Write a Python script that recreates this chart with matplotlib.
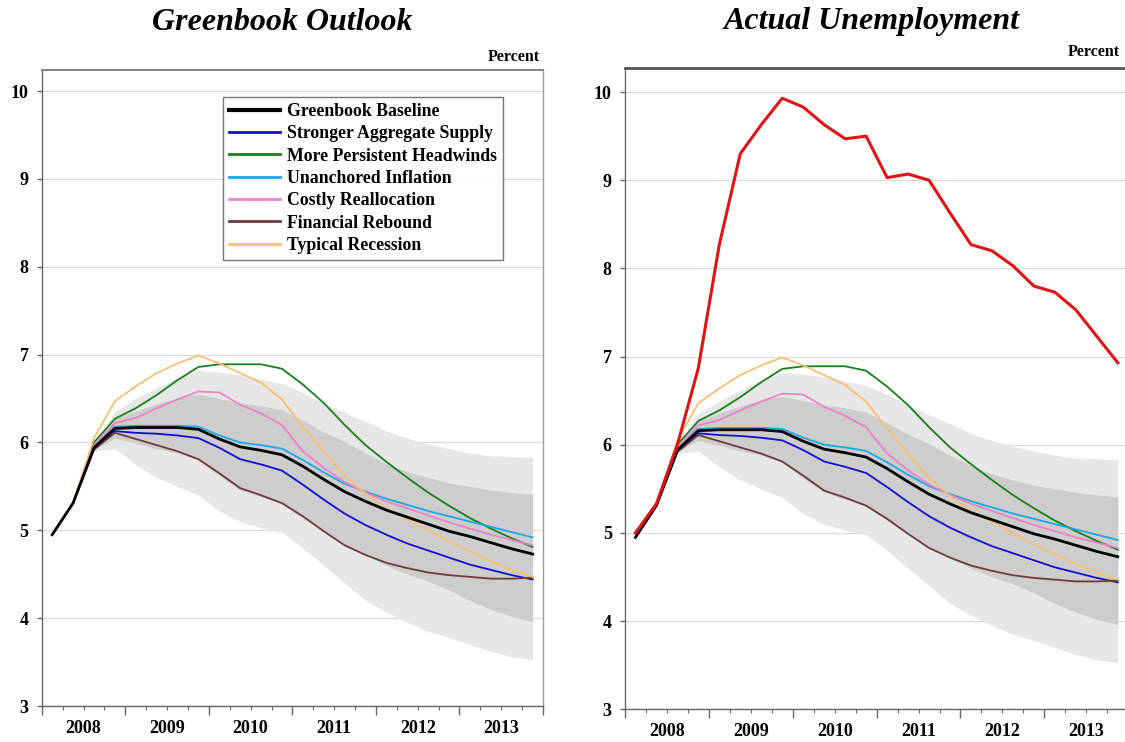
import matplotlib
matplotlib.use("Agg")
import matplotlib.pyplot as plt
import numpy as np
import pandas as pd

# ---------------- data ----------------
quarters = pd.period_range("2008Q1", "2013Q4", freq="Q")
years = ["2008", "2009", "2010", "2011", "2012", "2013"]

baseline = [4.95, 5.31, 5.94, 6.16, 6.17, 6.17, 6.17, 6.15, 6.04, 5.95, 5.91, 5.86,
            5.73, 5.58, 5.44, 5.33, 5.23, 5.15, 5.07, 4.99, 4.93, 4.86, 4.79, 4.73]

# scenarios start at 2008Q2
stronger_supply = [5.31, 5.92, 6.13, 6.11, 6.10, 6.08, 6.05, 5.94, 5.81, 5.75, 5.68, 5.52,
                   5.35, 5.19, 5.06, 4.95, 4.85, 4.77, 4.69, 4.61, 4.55, 4.49, 4.44]
headwinds = [5.31, 6.00, 6.27, 6.39, 6.54, 6.71, 6.86, 6.89, 6.89, 6.89, 6.84, 6.66,
             6.45, 6.20, 5.97, 5.78, 5.60, 5.43, 5.28, 5.14, 5.02, 4.91, 4.81]
unanchored = [5.31, 5.95, 6.18, 6.19, 6.19, 6.19, 6.18, 6.08, 6.00, 5.97, 5.93, 5.80,
              5.66, 5.53, 5.44, 5.36, 5.29, 5.22, 5.16, 5.10, 5.04, 4.98, 4.92]
reallocation = [5.31, 5.97, 6.22, 6.28, 6.39, 6.49, 6.58, 6.57, 6.43, 6.33, 6.20, 5.90,
                5.71, 5.55, 5.43, 5.33, 5.25, 5.17, 5.09, 5.02, 4.95, 4.89, 4.83]
fin_rebound = [5.31, 5.92, 6.11, 6.04, 5.97, 5.90, 5.81, 5.65, 5.48, 5.40, 5.31, 5.16,
               4.99, 4.83, 4.72, 4.63, 4.57, 4.52, 4.49, 4.47, 4.45, 4.45, 4.46]
typical_rec = [5.31, 6.05, 6.47, 6.64, 6.79, 6.90, 6.99, 6.90, 6.79, 6.68, 6.49, 6.18,
               5.90, 5.62, 5.42, 5.25, 5.12, 5.00, 4.87, 4.76, 4.65, 4.55, 4.47]

# confidence bands start at 2008Q3
band90_hi = [5.97, 6.35, 6.50, 6.62, 6.74, 6.82, 6.80, 6.77, 6.72, 6.67, 6.57, 6.45,
             6.34, 6.24, 6.13, 6.05, 5.98, 5.93, 5.88, 5.85, 5.84, 5.83]
band70_hi = [5.96, 6.27, 6.36, 6.44, 6.51, 6.55, 6.50, 6.45, 6.42, 6.37, 6.25, 6.12,
             6.01, 5.88, 5.76, 5.67, 5.60, 5.54, 5.50, 5.46, 5.43, 5.41]
band70_lo = [5.92, 6.05, 5.99, 5.93, 5.88, 5.80, 5.62, 5.46, 5.38, 5.30, 5.14, 4.98,
             4.84, 4.72, 4.60, 4.50, 4.42, 4.32, 4.20, 4.10, 4.02, 3.96]
band90_lo = [5.90, 5.93, 5.75, 5.60, 5.50, 5.40, 5.22, 5.10, 5.03, 4.98, 4.80, 4.60,
             4.40, 4.20, 4.07, 3.95, 3.85, 3.78, 3.70, 3.62, 3.56, 3.53]

actual = [5.00, 5.33, 6.00, 6.87, 8.27, 9.30, 9.63, 9.93, 9.83, 9.63, 9.47, 9.50,
          9.03, 9.07, 9.00, 8.63, 8.27, 8.20, 8.03, 7.80, 7.73, 7.53, 7.23, 6.93]

scenarios = [
    ("Stronger Aggregate Supply", stronger_supply, "#1010d0"),
    ("More Persistent Headwinds", headwinds, "#1a7f1a"),
    ("Unanchored Inflation", unanchored, "#18a8ec"),
    ("Costly Reallocation", reallocation, "#ee82c6"),
    ("Financial Rebound", fin_rebound, "#6e3c3c"),
    ("Typical Recession", typical_rec, "#f5c072"),
]

# ---------------- plotting ----------------
x = quarters.year + (quarters.quarter - 0.5) / 4.0
x = np.asarray(x, dtype=float)

SERIF = "Liberation Serif"
plt.rcParams["font.family"] = [SERIF, "DejaVu Serif"]

fig = plt.figure(figsize=(11.25, 7.42), dpi=100)
ax1 = fig.add_axes([0.0371, 0.0485, 0.4456, 0.8571])
ax2 = fig.add_axes([0.5555, 0.0441, 0.4474, 0.8639])


def draw_panel(ax, ylim_top, legend=False, show_actual=False, top_lw=1.3, top_col="#777777"):
    ax.set_xlim(2008, 2014)
    ax.set_ylim(3, ylim_top)
    ax.set_yticks(range(3, 11))
    ax.set_yticklabels([str(v) for v in range(3, 11)], fontweight="bold", fontsize=13)
    ax.yaxis.grid(True, color="#dcdcdc", linewidth=1.0, zorder=0)
    ax.set_axisbelow(True)

    ax.fill_between(x[2:], band90_lo, band90_hi, color="#e7e7e7", linewidth=0, zorder=1)
    ax.fill_between(x[2:], band70_lo, band70_hi, color="#cdcdcd", linewidth=0, zorder=2)

    ax.plot(x, baseline, color="black", lw=2.0, zorder=5, label="Greenbook Baseline")
    for name, vals, col in scenarios:
        ax.plot(x[1:], vals, color=col, lw=1.3, zorder=4, label=name)
    if show_actual:
        ax.plot(x, actual, color="#e01414", lw=2.2, zorder=6)

    # ticks
    ax.set_xticks(range(2008, 2015))
    ax.set_xticklabels([])
    ax.set_xticks(np.arange(2008, 2014.01, 0.25), minor=True)
    ax.tick_params(axis="x", which="major", length=6.5, width=1.0, color="#666666", direction="out")
    ax.tick_params(axis="x", which="minor", length=3.2, width=0.8, color="#666666", direction="out")
    ax.tick_params(axis="y", which="major", length=3.5, width=1.0, color="#666666", pad=6)

    sec = ax.secondary_xaxis("bottom")
    sec.set_xticks([int(y) + 0.5 for y in years])
    sec.set_xticklabels(years, fontweight="bold", fontsize=13)
    sec.tick_params(length=0, pad=10)
    sec.spines["bottom"].set_visible(False)

    for s in ["left", "bottom"]:
        ax.spines[s].set_color("#666666")
        ax.spines[s].set_linewidth(1.0)
    ax.spines["top"].set_color(top_col)
    ax.spines["top"].set_linewidth(top_lw)
    ax.spines["right"].set_color("#9a9a9a")
    ax.spines["right"].set_linewidth(1.0)

    if legend:
        leg = ax.legend(loc="upper left", bbox_to_anchor=(0.3617, 0.958), borderaxespad=0,
                        prop={"family": SERIF, "weight": "bold", "size": 12.8},
                        handlelength=2.85, handletextpad=0.4, labelspacing=0.3,
                        borderpad=0.35, frameon=True, fancybox=False)
        leg.get_frame().set_edgecolor("#555555")
        leg.get_frame().set_linewidth(1.0)
        for line in leg.get_lines():
            line.set_linewidth(2.0)
        leg.get_lines()[0].set_linewidth(3.0)


draw_panel(ax1, 10.24, legend=True)
draw_panel(ax2, 10.27, show_actual=True, top_lw=2.0, top_col="#555555")

fig.text(282 / 1125, 1 - 22 / 742, "Greenbook Outlook", ha="center", va="center",
         fontsize=23, fontweight="bold", fontstyle="italic", family=SERIF)
fig.text(872 / 1125, 1 - 22 / 742, "Actual Unemployment", ha="center", va="center",
         fontsize=23, fontweight="bold", fontstyle="italic", family=SERIF)
fig.text(540 / 1125, 1 - 57 / 742, "Percent", ha="right", va="center",
         fontsize=11.5, fontweight="bold", family=SERIF)
fig.text(1120 / 1125, 1 - 52 / 742, "Percent", ha="right", va="center",
         fontsize=11.5, fontweight="bold", family=SERIF)

fig.savefig("out.png", dpi=100)
